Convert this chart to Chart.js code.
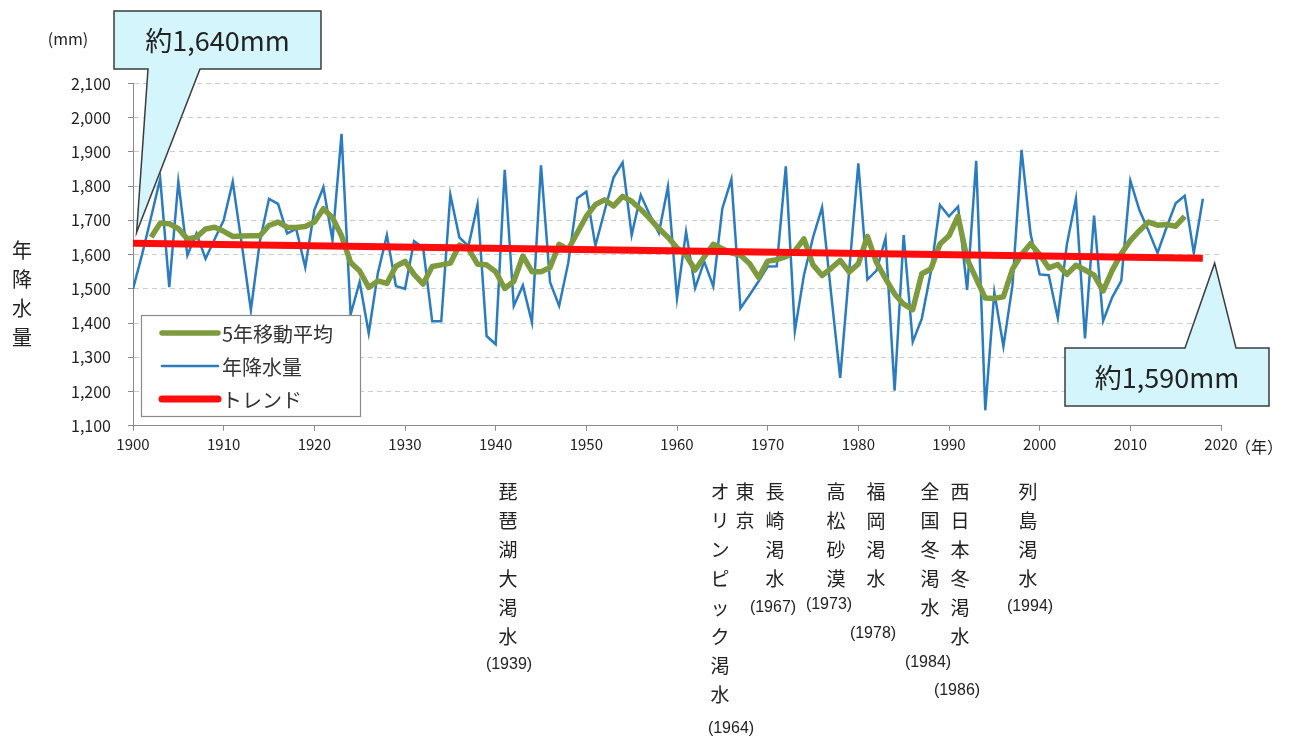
<!DOCTYPE html>
<html><head><meta charset="utf-8">
<script src="https://cdn.jsdelivr.net/npm/chart.js@4/dist/chart.umd.min.js"></script>
<style>html,body{margin:0;padding:0;background:#fff;}#wrap{width:1304px;height:740px;position:relative;}</style>
</head><body><div id="wrap"><canvas id="c" width="1304" height="740"></canvas></div>
<script>
// ---------- data ----------
const years = [
1900,1901,1902,1903,1904,1905,1906,1907,1908,1909,
1910,1911,1912,1913,1914,1915,1916,1917,1918,1919,
1920,1921,1922,1923,1924,1925,1926,1927,1928,1929,
1930,1931,1932,1933,1934,1935,1936,1937,1938,1939,
1940,1941,1942,1943,1944,1945,1946,1947,1948,1949,
1950,1951,1952,1953,1954,1955,1956,1957,1958,1959,
1960,1961,1962,1963,1964,1965,1966,1967,1968,1969,
1970,1971,1972,1973,1974,1975,1976,1977,1978,1979,
1980,1981,1982,1983,1984,1985,1986,1987,1988,1989,
1990,1991,1992,1993,1994,1995,1996,1997,1998,1999,
2000,2001,2002,2003,2004,2005,2006,2007,2008,2009,
2010,2011,2012,2013,2014,2015,2016,2017,2018];
const rainfall = [
1500,1600,1710,1822,1505,1813,1598,1662,1588,1645,
1700,1813,1630,1438,1640,1763,1748,1662,1675,1563,
1730,1797,1642,1953,1425,1520,1370,1545,1657,1508,
1500,1639,1620,1405,1405,1775,1650,1625,1746,1362,
1338,1848,1450,1510,1402,1861,1519,1450,1575,1765,
1784,1626,1726,1825,1869,1657,1774,1716,1663,1798,
1472,1667,1502,1580,1507,1735,1820,1443,1482,1522,
1565,1566,1858,1377,1540,1650,1738,1485,1240,1555,
1867,1527,1553,1648,1202,1657,1345,1413,1550,1745,
1712,1740,1497,1874,1145,1490,1332,1510,1906,1660,
1542,1540,1415,1630,1763,1355,1714,1406,1475,1523,
1816,1730,1670,1605,1680,1750,1772,1605,1763];
const movingAvg5 = [
null,null,1651,1692,1690,1676,1646,1651,1675,1680,
1668,1653,1654,1655,1655,1685,1695,1680,1679,1682,
1695,1734,1708,1655,1577,1552,1504,1523,1516,1566,
1580,1542,1514,1565,1570,1575,1628,1617,1572,1570,
1550,1501,1522,1596,1550,1550,1562,1630,1615,1664,
1712,1746,1760,1742,1770,1756,1732,1705,1676,1651,
1620,1598,1555,1593,1630,1617,1605,1598,1574,1533,
1581,1585,1594,1611,1646,1570,1539,1560,1583,1549,
1573,1653,1577,1530,1485,1455,1439,1544,1558,1631,
1655,1712,1587,1530,1473,1472,1477,1557,1600,1632,
1600,1561,1571,1542,1569,1555,1540,1494,1554,1603,
1641,1670,1695,1686,1688,1683,1712,null,null];
const trendYears = [1900, 2018];
const trendValues = [1633, 1589];
const seriesLabels = ['5年移動平均', '年降水量', 'トレンド'];
const yTickMin = 1100, yTickMax = 2100, yTickStep = 100;
const xTickMin = 1900, xTickMax = 2020, xTickStep = 10;

// annotation texts
const unitLabel = '(mm)';
const yTitle = '年降水量';
const xUnit = '（年）';
const calloutStart = {text: '約1,640mm', tipYear: 1900.4, tipValue: 1665};
const calloutEnd = {text: '約1,590mm', tipYear: 2019.3, tipValue: 1575};
const droughts = [
  {chars: '琵琶湖大渇水', cx: 508, year: '(1939)', yx: 509, yy: 665},
  {chars: 'オリンピック渇水', cx: 720, year: '(1964)', yx: 731, yy: 729},
  {chars: '東京', cx: 745, year: '', yx: 0, yy: 0},
  {chars: '長崎渇水', cx: 775, year: '(1967)', yx: 773, yy: 608},
  {chars: '高松砂漠', cx: 836, year: '(1973)', yx: 829, yy: 605},
  {chars: '福岡渇水', cx: 876, year: '(1978)', yx: 873, yy: 634},
  {chars: '全国冬渇水', cx: 930, year: '(1984)', yx: 928, yy: 663},
  {chars: '西日本冬渇水', cx: 960, year: '(1986)', yx: 957, yy: 691},
  {chars: '列島渇水', cx: 1028, year: '(1994)', yx: 1030, yy: 607}
];

// ---------- build ----------
const JP = '"Noto Sans CJK JP", "Noto Sans", sans-serif';
const pts = (xs, ys) => xs.map((x, i) => ({x: x, y: ys[i]})).filter(p => p.y !== null);

const annot = {
  id: 'annot',
  afterDatasetsDraw(chart) {
    const ctx = chart.ctx;
    // legend box
    const ds = chart.data.datasets;
    const order = [1, 2, 0].map(i => ds[i]); // green, blue, red
    ctx.save();
    ctx.fillStyle = '#fff';
    ctx.strokeStyle = '#8a8a8a';
    ctx.lineWidth = 1.2;
    ctx.fillRect(141, 315, 219, 101);
    ctx.strokeRect(141.5, 315.5, 219, 101);
    const rows = [333, 366, 399];
    ctx.font = '20px ' + JP;
    ctx.textBaseline = 'middle';
    ctx.textAlign = 'left';
    order.forEach((d, i) => {
      ctx.strokeStyle = d.borderColor;
      ctx.lineWidth = d.borderWidth;
      ctx.lineCap = 'round';
      ctx.beginPath();
      ctx.moveTo(162, rows[i]);
      ctx.lineTo(218, rows[i]);
      ctx.stroke();
      ctx.fillStyle = '#333';
      ctx.fillText(d.label, 222, rows[i] + 1);
    });
    ctx.restore();
  },
  afterDraw(chart) {
    const ctx = chart.ctx;
    const xs = chart.scales.x, ys = chart.scales.y;
    ctx.save();
    ctx.fillStyle = '#222';
    // unit
    ctx.font = '16px ' + JP;
    ctx.textAlign = 'center';
    ctx.textBaseline = 'middle';
    ctx.fillText(unitLabel, 68, 39);
    // x unit
    ctx.fillText(xUnit, 1259, xs.bottom - 314.3 + 21.5);
    // y title
    ctx.font = '20px ' + JP;
    [...yTitle].forEach((ch, i) => ctx.fillText(ch, 22, 250 + i * 29.3));
    // drought labels
    droughts.forEach(d => {
      ctx.font = '19px ' + JP;
      [...d.chars].forEach((ch, i) => ctx.fillText(ch, d.cx, 492 + i * 29));
      if (d.year) {
        ctx.font = '16px "Liberation Sans", Arial, sans-serif';
        ctx.fillText(d.year, d.yx, d.yy);
      }
    });
    // callouts
    const drawCallout = (box, base, tip, text, fromBottom) => {
      ctx.beginPath();
      if (fromBottom) {
        ctx.moveTo(box.l, box.t); ctx.lineTo(box.r, box.t); ctx.lineTo(box.r, box.b);
        ctx.lineTo(base[1], box.b); ctx.lineTo(tip.x, tip.y); ctx.lineTo(base[0], box.b);
        ctx.lineTo(box.l, box.b); ctx.closePath();
      } else {
        ctx.moveTo(box.l, box.t); ctx.lineTo(base[0], box.t); ctx.lineTo(tip.x, tip.y);
        ctx.lineTo(base[1], box.t); ctx.lineTo(box.r, box.t); ctx.lineTo(box.r, box.b);
        ctx.lineTo(box.l, box.b); ctx.closePath();
      }
      ctx.fillStyle = '#d3f5fb';
      ctx.fill();
      ctx.strokeStyle = '#3c3c3c';
      ctx.lineWidth = 1.5;
      ctx.lineJoin = 'miter';
      ctx.stroke();
      ctx.fillStyle = '#222';
      ctx.font = '27px ' + JP;
      ctx.textAlign = 'center';
      ctx.textBaseline = 'middle';
      ctx.fillText(text, (box.l + box.r) / 2, (box.t + box.b) / 2 + 1);
    };
    drawCallout({l: 114, t: 11, r: 321, b: 69}, [148, 200],
      {x: xs.getPixelForValue(calloutStart.tipYear), y: ys.getPixelForValue(calloutStart.tipValue)},
      calloutStart.text, true);
    drawCallout({l: 1065, t: 348, r: 1269, b: 406}, [1185, 1236],
      {x: xs.getPixelForValue(calloutEnd.tipYear), y: ys.getPixelForValue(calloutEnd.tipValue)},
      calloutEnd.text, false);
    ctx.restore();
  }
};

new Chart(document.getElementById('c'), {
  type: 'line',
  data: {
    datasets: [
      {label: seriesLabels[2], data: pts(trendYears, trendValues), borderColor: '#ff0d0d', borderWidth: 7, order: 0, borderCapStyle: 'butt'},
      {label: seriesLabels[0], data: pts(years, movingAvg5), borderColor: '#7d9b3e', borderWidth: 5.5, order: 1, borderJoinStyle: 'round'},
      {label: seriesLabels[1], data: pts(years, rainfall), borderColor: '#2b7bbf', borderWidth: 2.5, order: 2}
    ]
  },
  options: {
    responsive: false, animation: false, devicePixelRatio: 1, locale: 'en-US',
    parsing: true,
    layout: {padding: {left: 0, top: 83.5, right: 83, bottom: 0}},
    plugins: {legend: {display: false}, tooltip: {enabled: false}},
    elements: {point: {radius: 0, hoverRadius: 0}, line: {tension: 0, fill: false}},
    scales: {
      x: {
        type: 'linear', min: xTickMin, max: xTickMax,
        ticks: {stepSize: xTickStep, callback: v => String(v), color: '#222', autoSkip: false, maxRotation: 0,
                font: {family: JP, size: 15}, padding: 5},
        grid: {drawOnChartArea: false, drawTicks: true, tickLength: 5, tickColor: '#8a8a8a', color: '#8a8a8a'},
        border: {display: true, color: '#8a8a8a', width: 1},
        afterFit(s) { s.height = 314.3; }
      },
      y: {
        min: yTickMin, max: yTickMax,
        ticks: {stepSize: yTickStep, color: '#222', font: {family: JP, size: 16}, padding: 17},
        grid: {color: '#cdcdcd', lineWidth: 1, drawTicks: true, tickLength: 5, tickColor: '#8a8a8a'},
        border: {display: true, color: '#8a8a8a', width: 1, dash: [5, 4]},
        afterFit(s) { s.width = 133; }
      }
    }
  },
  plugins: [annot]
});
</script>
</body></html>
